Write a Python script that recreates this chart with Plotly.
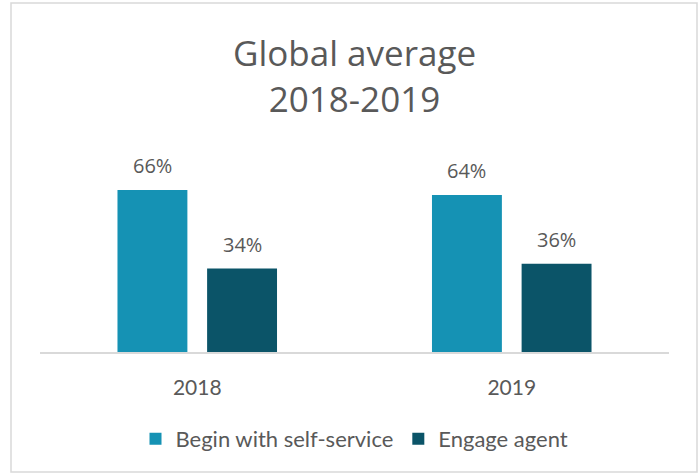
import plotly.graph_objects as go

# Chart data
years = ["2018", "2019"]
series_names = ["Begin with self-service", "Engage agent"]
self_service = [66, 64]
engage_agent = [34, 36]
series_values = [self_service, engage_agent]
series_colors = ["#1592B4", "#0B5468"]

TEXT = "#595959"
W, H = 698, 473
ML, MR, MT, MB = 40, 29, 150, 121
plot_w = W - ML - MR
plot_h = H - MT - MB

fig = go.Figure()
for name, vals, col in zip(series_names, series_values, series_colors):
    fig.add_trace(go.Bar(
        x=years, y=vals, name=name,
        marker=dict(color=col, line=dict(width=0)),
        hoverinfo="skip",
    ))

# value labels above each bar
slot = plot_w / 2 * 0.57 / 2
for i, vals in enumerate(series_values):
    for k, v in enumerate(vals):
        fig.add_annotation(
            x=k, y=v, xref="x", yref="y",
            text=f"{v}%", showarrow=False,
            xshift=(i - 0.5) * slot, yshift=9, yanchor="bottom",
            font=dict(family="Open Sans", size=20, color=TEXT),
        )

def px_x(p):
    return (p - ML) / plot_w

def px_y(p):
    return (H - MB - p) / plot_h

# outer chart border
fig.add_shape(
    type="rect", xref="paper", yref="paper",
    x0=px_x(11), x1=px_x(697), y0=px_y(472), y1=px_y(3),
    line=dict(color="#D9D9D9", width=1.5), layer="below",
)

fig.update_layout(
    width=W, height=H,
    margin=dict(l=ML, r=MR, t=MT, b=MB),
    paper_bgcolor="white", plot_bgcolor="white",
    barmode="group", bargap=0.43, bargroupgap=0.22,
    title=dict(
        text="Global average<br>2018-2019",
        x=0.5, xref="paper", xanchor="center",
        y=1 - 66 / H, yref="container", yanchor="middle",
        font=dict(family="Open Sans", size=35, color=TEXT),
    ),
    xaxis=dict(
        type="category", categoryorder="array", categoryarray=years,
        range=[-0.5, len(years) - 0.5], autorange=False,
        showline=True, linecolor="#D9D9D9", linewidth=1.5,
        showgrid=False, ticks="", ticklabelstandoff=16,
        tickfont=dict(family="Lato", size=21, color=TEXT),
        fixedrange=True,
    ),
    yaxis=dict(
        range=[0, plot_h / (162 / 66)], autorange=False, visible=False,
        showgrid=False, zeroline=False, fixedrange=True,
    ),
    legend=dict(
        orientation="h", x=0.5, xanchor="center",
        y=px_y(418), yanchor="top",
        font=dict(family="Lato", size=22, color=TEXT),
        itemwidth=30, traceorder="normal",
    ),
    showlegend=True,
)

fig.write_html("out.html")
